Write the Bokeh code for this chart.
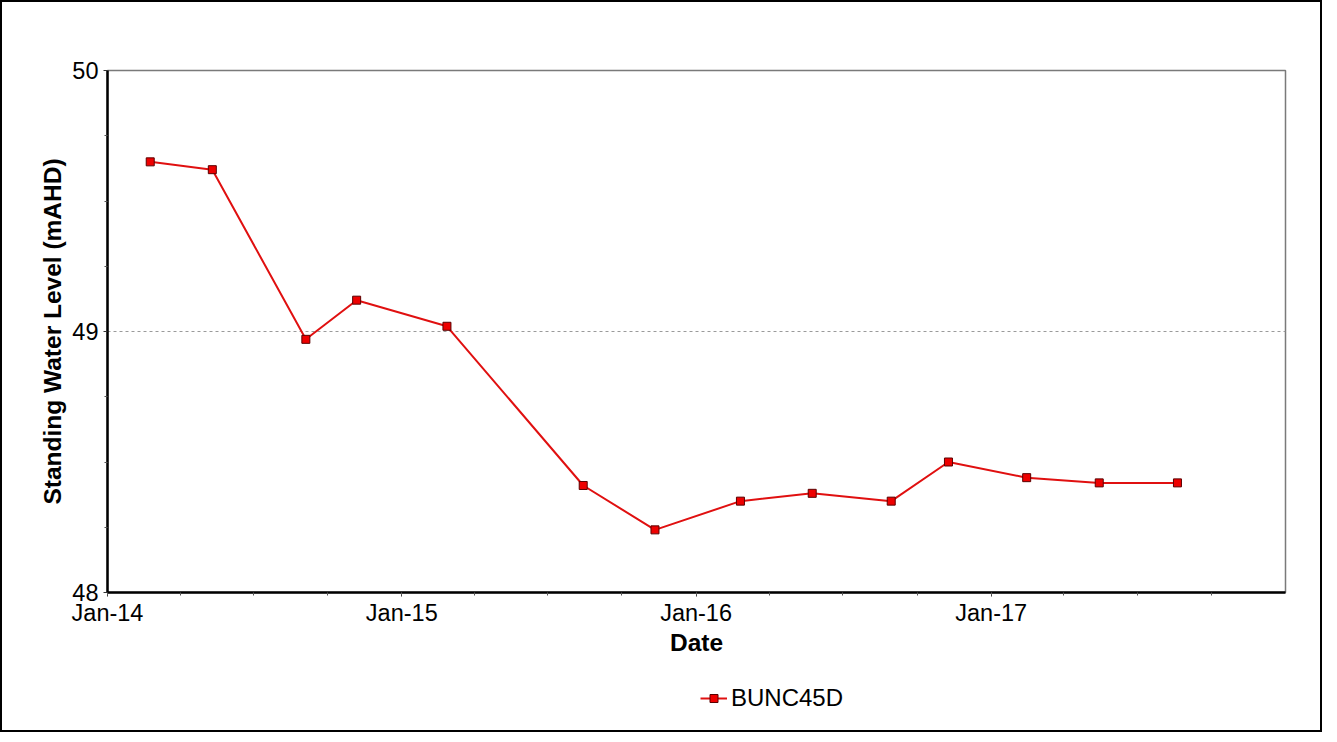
import pandas as pd
from bokeh.plotting import figure
from bokeh.layouts import column
from bokeh.models import FixedTicker, Legend, LegendItem, Range1d, DatetimeTickFormatter
from bokeh.embed import file_html
from bokeh.resources import INLINE

# ---- data ----
dates = ["2014-02-23", "2014-05-11", "2014-09-04", "2014-11-06", "2015-02-26",
         "2015-08-14", "2015-11-11", "2016-02-25", "2016-05-24", "2016-08-30",
         "2016-11-09", "2017-02-14", "2017-05-15", "2017-08-20"]
levels = [49.65, 49.62, 48.97, 49.12, 49.02,
          48.41, 48.24, 48.35, 48.38, 48.35,
          48.50, 48.44, 48.42, 48.42]
series_name = "BUNC45D"
x_label = "Date"
y_label = "Standing Water Level (mAHD)"
tick_dates = ["2014-01-01", "2015-01-01", "2016-01-01", "2017-01-01"]
tick_labels = ["Jan-14", "Jan-15", "Jan-16", "Jan-17"]
x_start, x_end = "2014-01-01", "2018-01-01"
y_ticks = [48, 49, 50]
y_minor = [48.25, 48.5, 48.75, 49.25, 49.5, 49.75]
y_start, y_end = 48, 50

FONT = "Liberation Sans"
LINE_COLOR = "#e01010"
MARK_FILL = "#ee0000"
MARK_LINE = "#5a0000"
EPOCH = pd.Timestamp("1970-01-01")


def to_ms(d):
    return float((pd.Timestamp(d) - EPOCH) / pd.Timedelta("1ms"))


xs = [to_ms(d) for d in dates]
major_ms = [to_ms(d) for d in tick_dates]
minor_ms = [to_ms(d) for d in pd.date_range("2014-01-01", "2017-10-01", freq="QS")]

W = 1318
p = figure(width=W, height=670, x_axis_type="datetime",
           output_backend="svg", toolbar_location=None,
           x_range=Range1d(to_ms(x_start), to_ms(x_end)),
           y_range=Range1d(y_start, y_end),
           min_border_left=105, min_border_right=35,
           min_border_top=68, min_border_bottom=80)
p.background_fill_color = "white"
p.border_fill_color = "white"
p.outline_line_color = "#7a7a7a"
p.outline_line_width = 1.5

# grid: only dashed line at 49
p.xgrid.visible = False
p.ygrid.ticker = FixedTicker(ticks=[49])
p.ygrid.grid_line_color = "#9a9a9a"
p.ygrid.grid_line_dash = "3 3"
p.ygrid.grid_line_width = 1

# x axis
xa = p.xaxis[0]
xa.ticker = FixedTicker(ticks=major_ms, minor_ticks=minor_ms)
xa.formatter = DatetimeTickFormatter(years="%b-%y", months="%b-%y", days="%b-%y")
xa.major_label_overrides = {m: t for m, t in zip(major_ms, tick_labels)}
xa.axis_label = x_label
# y axis
ya = p.yaxis[0]
ya.ticker = FixedTicker(ticks=y_ticks, minor_ticks=y_minor)
ya.axis_label = y_label

for ax in (xa, ya):
    ax.axis_line_color = "black"
    ax.axis_line_width = 2.5
    ax.major_tick_in = 0
    ax.minor_tick_in = 0
    ax.major_tick_out = 4
    ax.minor_tick_out = 3
    ax.major_tick_line_color = "#333333"
    ax.minor_tick_line_color = "#555555"
    ax.major_label_text_font = FONT
    ax.major_label_text_font_size = "23.5px"
    ax.major_label_text_color = "black"
    ax.axis_label_text_font = FONT
    ax.axis_label_text_font_size = "24.5px"
    ax.axis_label_text_font_style = "bold"
    ax.axis_label_text_color = "black"

xa.major_label_standoff = 3
xa.axis_label_standoff = 0
ya.major_label_standoff = 5
ya.axis_label_standoff = 3

p.line(xs, levels, line_color=LINE_COLOR, line_width=2)
p.scatter(xs, levels, marker="square", size=8,
          fill_color=MARK_FILL, line_color=MARK_LINE, line_width=1)

# ---- legend strip below the chart (a frameless figure holding the legend) ----
# its frame is aligned with the chart frame by the column layout; the key
# renderers reuse the first data point, which lies outside this strip's ranges
lg = figure(width=W, height=58, output_backend="svg", toolbar_location=None,
            x_range=Range1d(0, 1), y_range=Range1d(0, 1),
            x_axis_location=None, y_axis_location=None,
            min_border_left=105, min_border_right=35,
            min_border_top=0, min_border_bottom=0)
lg.xgrid.visible = False
lg.ygrid.visible = False
lg.outline_line_color = None
lg.background_fill_color = "white"
lg.border_fill_color = "white"
k_line = lg.line(xs[:1], levels[:1], line_color=LINE_COLOR, line_width=2)
k_pts = lg.scatter(xs[:1], levels[:1], marker="square", size=6,
                   fill_color=MARK_FILL, line_color=MARK_LINE, line_width=1)
legend = Legend(items=[LegendItem(label=series_name, renderers=[k_line, k_pts])],
                location=(593, 18), orientation="horizontal",
                glyph_width=27, glyph_height=20, label_height=20,
                label_standoff=4, padding=0, margin=0,
                border_line_color=None, background_fill_alpha=0,
                label_text_font=FONT, label_text_font_size="24px",
                label_text_color="black")
lg.add_layout(legend)

page = column(p, lg, spacing=0, styles={"border": "2px solid black"})

open("out.html", "w").write(file_html(page, INLINE))
